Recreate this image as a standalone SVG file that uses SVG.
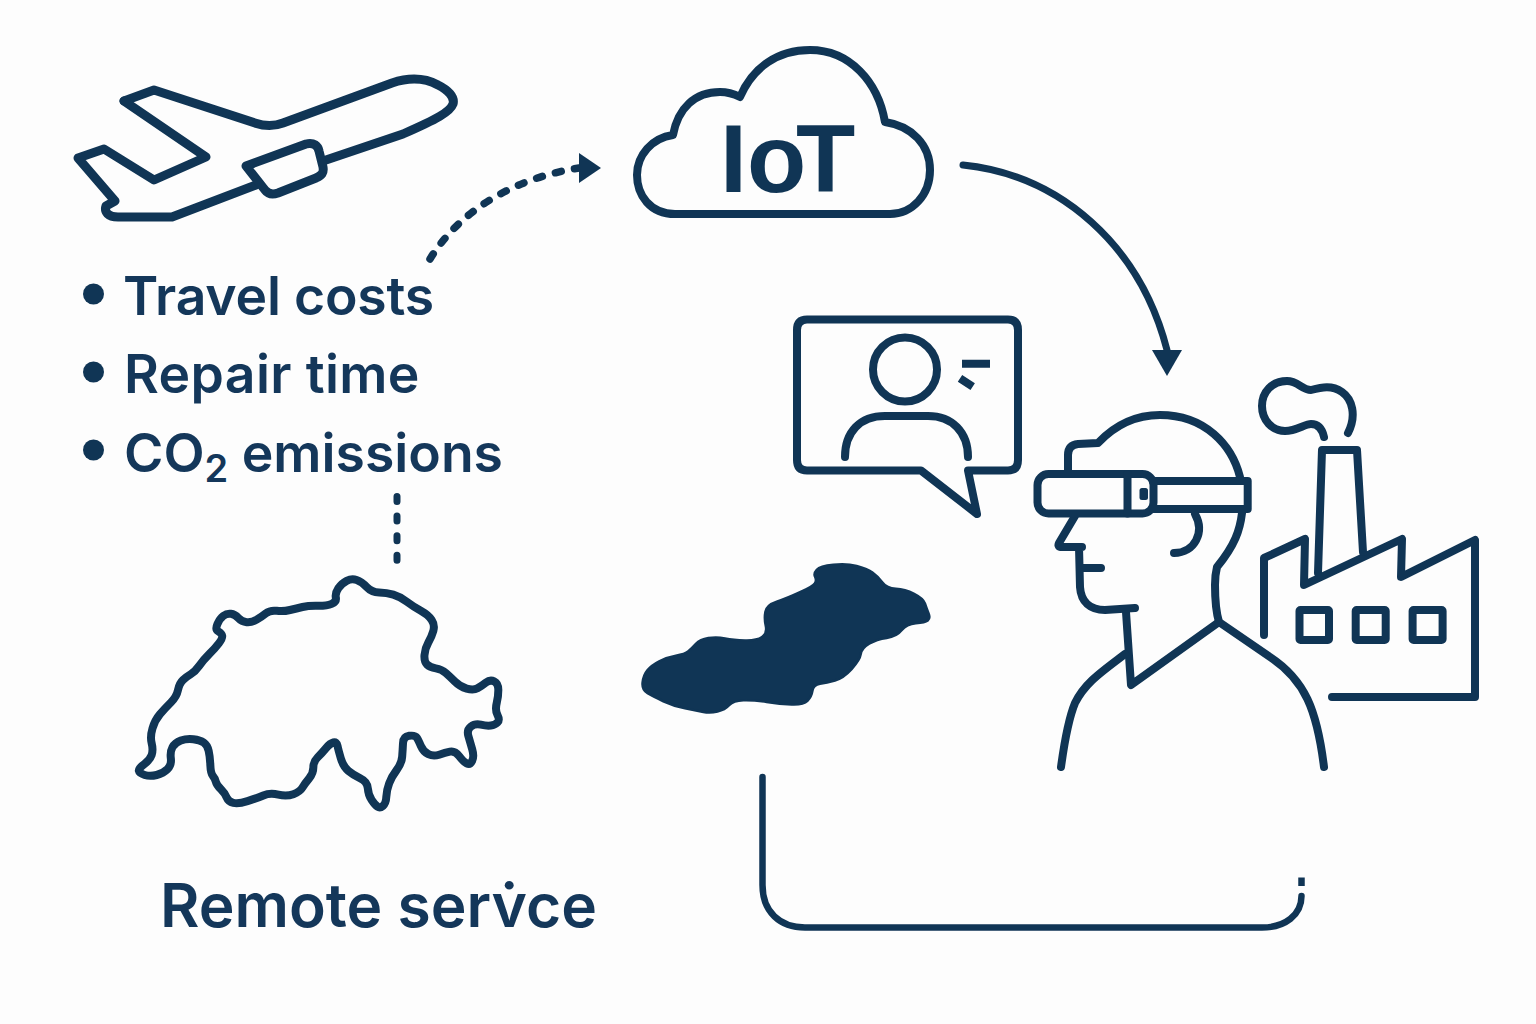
<svg xmlns="http://www.w3.org/2000/svg" width="1536" height="1024" viewBox="0 0 1536 1024">
<style>
.s{fill:none;stroke:#103555;stroke-width:8;stroke-linecap:round;stroke-linejoin:round}
.b{stroke-linecap:butt}
.f{fill:#103555}
.t{font-family:"Inter","Liberation Sans",sans-serif;font-weight:600;font-size:53.5px;fill:#14375a}
.h{font-family:"Inter","Liberation Sans",sans-serif;font-weight:600;font-size:60.500px;fill:#14375a}
</style>
<defs>
<marker id="ar" markerUnits="userSpaceOnUse" markerWidth="24" markerHeight="32" refX="0" refY="15" orient="0"><path class="f" d="M0 0L22 15L0 30Z"/></marker>
<marker id="ad" markerUnits="userSpaceOnUse" markerWidth="28" markerHeight="32" refX="0" refY="15" orient="90"><path class="f" d="M0 0L26 15L0 30Z"/></marker>
</defs>
<rect width="1536" height="1024" fill="#fdfdfd"/>
<g id="plane">
<path class="s" style="stroke-width:9" d="M124 101L154 90L255 123C267 127 275 126 283 123L392 83C410 77 425 78 438 85C448 90 455 97 453 104C450 112 437 119 403 134L326 160"/>
<path class="s" style="stroke-width:9" d="M256 185L172 217H118C108 217 104 212 106 206L115 201L78 158L104 149L154 180L206 157L124 101"/>
<path class="s" style="stroke-width:9" d="M246 166L306 144C314 142 318 146 319 151L323 167C324 173 322 175 316 178L278 193C272 195 268 194 265 190Z"/>
</g>
<g id="cloud">
<path class="s" style="stroke-width:8" d="M675 214C650 214 637 195 637 175C637 155 652 138 673 135C678 108 695 92 720 92C728 92 734 94 740 97C753 67 778 50 810 50C850 50 878 82 885 122C912 126 930 145 930 170C930 195 912 214 890 214Z"/>
<text x="720 747 796" y="192" font-family="'Liberation Sans',Arial,sans-serif" font-weight="700" font-size="97" fill="#103555">IoT</text>
</g>
<g id="costs">
<circle class="f" cx="93.500" cy="294" r="10.500"/>
<circle class="f" cx="93.500" cy="372" r="10.500"/>
<circle class="f" cx="93.500" cy="450" r="10.500"/>
<text class="t" x="123" y="315" letter-spacing="-.2">Travel costs</text>
<text class="t" x="124" y="393" letter-spacing=".35">Repair time</text>
<text class="t" x="124" y="471.500">CO<tspan font-size="38" dy="10">2</tspan><tspan dy="-10"> emissions</tspan></text>
</g>
<g id="switzerland-outline">
<path class="s" style="stroke-width:24" transform="translate(120 560) scale(.33333)" d="M647.500 112.500Q645 100 655 85T680 62.500T710 60T740 81T777.500 97.500T820 104T860 125T902.500 152.500T935 180T940 212.500T925 247.500T913.500 285T921 313.500T947.500 325T977.500 339T1005 365T1040 386T1072.500 385T1097.500 368T1122.500 364T1135 390T1130 430T1132.500 465T1132.500 487.500T1112.500 496.500T1082.500 494T1052.500 500T1045 527.500T1056.500 567.500T1056.500 602.500T1040 610T1017.500 588.500T990 575T957.500 584T925 582.500T902.500 557.500T890 532.500T867.500 527.500T849 550T846.500 590T830 630T807.500 670T799 710T789 737.500T772.500 740T755 720T743.500 685T721 655T685 632.500T662.500 595T652.500 557.500T640 547.500T617.500 565T592.500 592.500T580 622.500T567.500 655T547.500 682.500T520 702.500T475 704T430 706.500T382.500 723.500T340 728.500T320 712.500T302.500 687.500T287.500 665T278.500 647.500T271 615T266 572.500T251 547.500T220 537.500T182.500 541.500T157.500 561.500T152.500 595T142.500 627.500T110 645T74 645T56.500 632.500T72.500 612.500T95 585T95 550T97.500 505T120 462.500T152.500 427.500T174 390T189 360T212.500 342.500T237.500 317.500T267.500 282.500T296.500 250T306.500 227.500T295 214T292.500 191.500T310 167.500T332.500 161.500T355 174T380 186.500T410 179T437.500 160T470 152.500T510 150T547.500 141T592.500 137.500T635 131.500T647.500 112.500Z"/>
</g>
<g id="remote-service-label">
<text class="h" x="160" y="927">Remote serv̇ce</text>
</g>
<g id="switzerland-solid">
<path class="f" style="stroke:#103555;stroke-width:7;stroke-linejoin:round" transform="translate(630 550) scale(.33333)" d="M52.500 430Q35 420 37.500 397.500T52.500 360T87.500 333.500T137.500 317T175 303.500T197.500 281.500T235 264T285 265T345 271T396 261T407 227.500T406 185T440 155T510 126.500T555 99T555 80T560 59T610 44T680 47.500T727.500 67.500T757.500 97.500T797.500 116T852.500 131T885 160T896 190T893.500 211.500T857.500 220T815 241T770 264T717.500 281.500T692.500 312.500T665 357.500T615 391.500T570 401.500T547.500 422.500T532.500 452.500T485 463.500T410 456T340 451T297.500 466T262.500 485T220 486T165 475T100 454T52.500 430Z"/>
</g>
<g id="video-bubble">
<path class="s" d="M807 319.500H1008Q1018 319.500 1018 330V460Q1018 470.500 1008 470.500H968L977 514L921 470.500H807Q797 470.500 797 460V330Q797 319.500 807 319.500Z"/>
<circle class="s" cx="905" cy="369.500" r="32"/>
<path class="s" d="M845 457C845 432 860 416 885 416H928C952 416 968 432 968 457"/>
<path class="s b" d="M962 363.700H990M960 378.300L972.700 386.700"/>
</g>
<g id="technician">
<path class="s" d="M1068 472V455Q1068 445 1078 444L1098 443C1115 425 1135 415 1160 415C1205 415 1232 445 1240 477"/>
<path class="s" d="M1242 513C1240 530 1235 545 1217 567Q1215 575 1215 585C1215 600 1216 612 1219 622L1270 657C1305 680 1317 710 1324 767"/>
<path class="s" d="M1219 622L1131 685L1126 612"/>
<path class="s" d="M1125 654C1100 673 1085 683 1075 703C1068 720 1064 745 1061 767"/>
<path class="s" d="M1075 516L1059 543Q1057 547 1062 547H1082M1079 547L1080 587C1081 602 1090 610 1105 610L1135 608M1082 568H1101"/>
<path class="s" d="M1195 514C1205 532 1195 553 1174 553"/>
<rect class="s" x="1037.500" y="474" width="116" height="39.500" rx="11"/>
<path class="s" d="M1127.500 474V513.500"/>
<path class="s" d="M1153 481H1247.700V509H1153"/>
<rect class="f" x="1139.500" y="488" width="8.500" height="12" rx="2.500"/>
</g>
<g id="factory">
<path class="s" d="M1264 635V558L1305 539L1304 585L1402 539L1401 577L1475 540V697H1332"/>
<path class="s" d="M1318 573L1322 450H1357L1363 552"/>
<rect class="s" x="1299.500" y="610" width="29.500" height="30" rx="1"/>
<rect class="s" x="1355.700" y="610" width="30" height="30" rx="1"/>
<rect class="s" x="1412.600" y="610" width="30" height="30" rx="1"/>
<path class="s" d="M1324 437C1322 428 1318 424 1311 424C1305 424 1296 431 1285 431C1272 431 1262 420 1262 406C1262 392 1272 381 1287 381C1298 381 1302 390 1311 390C1322 387 1332 385 1342 392C1352 399 1357 415 1348 433"/>
</g>
<g id="connectors">
<path class="s" stroke-dasharray="6 13.500" style="stroke-width:7.500" marker-end="url(#ar)" d="M430 259C460 210 515 178 579 168"/>
<path class="s" style="stroke-width:7" marker-end="url(#ad)" d="M963 165C1060 175 1140 245 1167 350"/>
<path class="s" style="stroke-width:7" stroke-dasharray="5 14.600" d="M397 496.500V561"/>
<path class="s" style="stroke-width:6.500" d="M762.500 777V885C762.500 912 780 927.500 805 927.500H1262C1285 927.500 1301.500 915 1301.500 896"/>
<path class="s b" style="stroke-width:6.500" d="M1301.500 877.500V886"/>
</g>
</svg>
